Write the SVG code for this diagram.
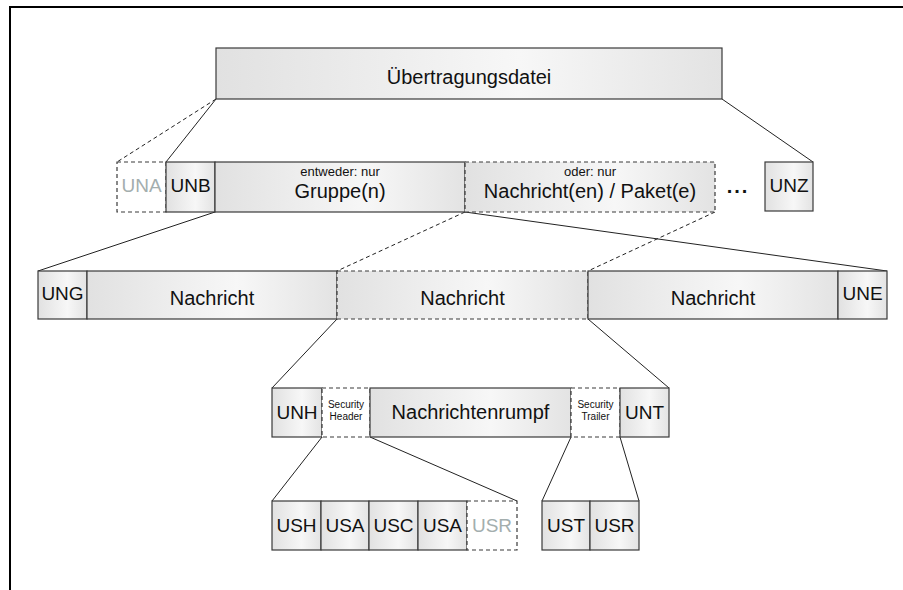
<svg xmlns="http://www.w3.org/2000/svg" width="903" height="590" viewBox="0 0 903 590">
<defs>
<linearGradient id="g" x1="0" y1="0" x2="1" y2="0">
<stop offset="0" stop-color="#e1e1e1"/>
<stop offset="0.6" stop-color="#f7f7f7"/>
<stop offset="1" stop-color="#e3e3e3"/>
</linearGradient>
</defs>
<style>
.b{fill:url(#g);stroke:#3a3a3a;stroke-width:1.2}
.d{fill:url(#g);stroke:#3a3a3a;stroke-width:1.2;stroke-dasharray:4 3}
.w{fill:#ffffff;stroke:#3a3a3a;stroke-width:1.2;stroke-dasharray:4 3}
text{font-family:"Liberation Sans",Arial,sans-serif;fill:#111;text-anchor:middle}
.l{font-size:20px}
.s{font-size:19px}
.m{font-size:13px}
.t{font-size:10px}
.gr{fill:#a3aeae}
.c{stroke:#222;stroke-width:1;fill:none}
.cd{stroke:#222;stroke-width:1;fill:none;stroke-dasharray:4 3}
</style>
<path d="M10 590 V7 H903" fill="none" stroke="#000" stroke-width="2"/>
<g id="connectors">
<line class="cd" x1="216" y1="99" x2="117" y2="162"/>
<line class="c" x1="216" y1="99" x2="166" y2="162"/>
<line class="c" x1="722" y1="99" x2="813" y2="162"/>
<line class="c" x1="215" y1="212" x2="38" y2="271"/>
<line class="cd" x1="465" y1="212" x2="337" y2="271"/>
<line class="c" x1="465" y1="212" x2="887" y2="271"/>
<line class="cd" x1="715" y1="212" x2="588" y2="271"/>
<line class="c" x1="337" y1="319" x2="272" y2="388"/>
<line class="c" x1="588" y1="319" x2="669" y2="388"/>
<line class="c" x1="322" y1="437" x2="272" y2="501"/>
<line class="c" x1="370" y1="437" x2="517" y2="501"/>
<line class="c" x1="571" y1="437" x2="542" y2="501"/>
<line class="c" x1="620" y1="437" x2="639" y2="501"/>
</g>
<g id="uebertragungsdatei"><rect class="b" x="216" y="48" width="506" height="51"/><text class="l" x="469" y="84">Übertragungsdatei</text></g>
<g id="una"><rect class="w" x="117" y="162" width="49" height="50"/><text class="s gr" x="141.5" y="192">UNA</text></g>
<g id="unb"><rect class="b" x="166" y="162" width="49" height="50"/><text class="s" x="190.5" y="192">UNB</text></g>
<g id="gruppe"><rect class="b" x="215" y="162" width="250" height="50"/><text class="m" x="340" y="176">entweder: nur</text><text class="l" x="340" y="198">Gruppe(n)</text></g>
<g id="nachrichten-pakete"><rect class="d" x="465" y="162" width="250" height="50"/><text class="m" x="590" y="176">oder: nur</text><text class="l" x="590" y="198">Nachricht(en) / Paket(e)</text></g>
<g id="dots"><text class="l" x="738" y="193" style="font-weight:bold;letter-spacing:2px">...</text></g>
<g id="unz"><rect class="b" x="765" y="162" width="48" height="49"/><text class="s" x="789" y="192">UNZ</text></g>
<g id="ung"><rect class="b" x="38" y="271" width="49" height="48"/><text class="s" x="62.5" y="300">UNG</text></g>
<g id="nachricht1"><rect class="b" x="87" y="271" width="250" height="48"/><text class="l" x="212" y="305">Nachricht</text></g>
<g id="nachricht2"><rect class="d" x="337" y="271" width="251" height="48"/><text class="l" x="462.5" y="305">Nachricht</text></g>
<g id="nachricht3"><rect class="b" x="588" y="271" width="250" height="48"/><text class="l" x="713" y="305">Nachricht</text></g>
<g id="une"><rect class="b" x="838" y="271" width="49" height="48"/><text class="s" x="862.5" y="300">UNE</text></g>
<g id="unh"><rect class="b" x="272" y="388" width="50" height="49"/><text class="s" x="297" y="419">UNH</text></g>
<g id="security-header"><rect class="w" x="322" y="388" width="48" height="49"/><text class="t" x="346" y="408">Security</text><text class="t" x="346" y="420">Header</text></g>
<g id="nachrichtenrumpf"><rect class="b" x="370" y="388" width="201" height="49"/><text class="l" x="470.5" y="419">Nachrichtenrumpf</text></g>
<g id="security-trailer"><rect class="w" x="571" y="388" width="49" height="49"/><text class="t" x="595.5" y="408">Security</text><text class="t" x="595.5" y="420">Trailer</text></g>
<g id="unt"><rect class="b" x="620" y="388" width="49" height="49"/><text class="s" x="644.5" y="419">UNT</text></g>
<g id="ush"><rect class="b" x="272" y="501" width="49" height="49"/><text class="s" x="296.5" y="532">USH</text></g>
<g id="usa1"><rect class="b" x="321" y="501" width="48" height="49"/><text class="s" x="345" y="532">USA</text></g>
<g id="usc"><rect class="b" x="369" y="501" width="49" height="49"/><text class="s" x="393.5" y="532">USC</text></g>
<g id="usa2"><rect class="b" x="418" y="501" width="49" height="49"/><text class="s" x="442.5" y="532">USA</text></g>
<g id="usr1"><rect class="w" x="467" y="501" width="50" height="49"/><text class="s gr" x="492" y="532">USR</text></g>
<g id="ust"><rect class="b" x="542" y="501" width="48" height="49"/><text class="s" x="566" y="532">UST</text></g>
<g id="usr2"><rect class="b" x="590" y="501" width="49" height="49"/><text class="s" x="614.5" y="532">USR</text></g>
</svg>
